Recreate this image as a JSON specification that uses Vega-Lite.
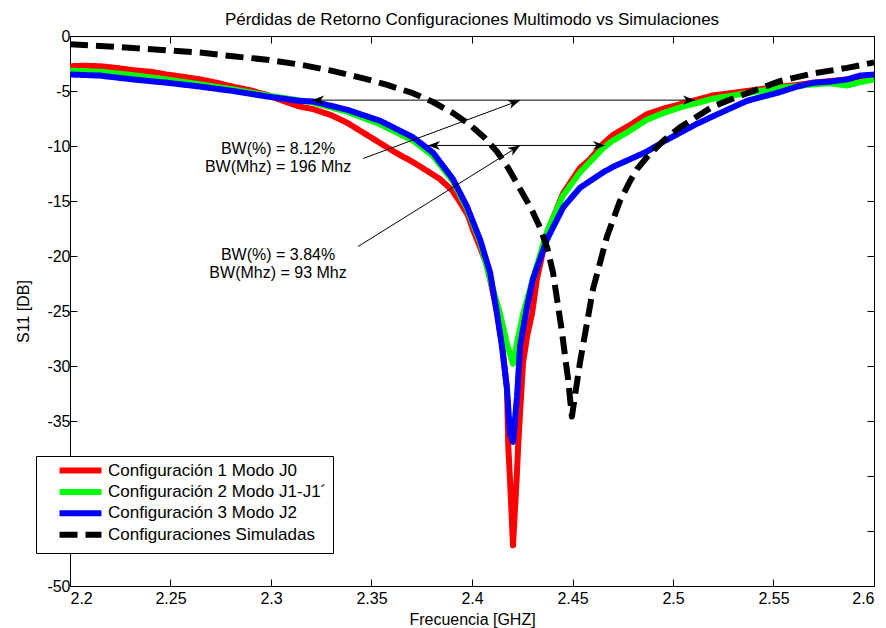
{
  "$schema": "https://vega.github.io/schema/vega-lite/v6.json",
  "width": 804,
  "height": 550,
  "autosize": {"type": "none"},
  "padding": {"left": 70, "top": 36, "right": 12, "bottom": 42},
  "background": "white",
  "config": {
    "font": "Liberation Sans",
    "view": {"stroke": "black", "strokeWidth": 1},
    "axis": {
      "grid": false,
      "domainColor": "black",
      "domainWidth": 1,
      "tickColor": "black",
      "tickWidth": 1,
      "tickSize": -7,
      "labelColor": "black",
      "titleColor": "black",
      "labelFont": "Liberation Sans",
      "titleFont": "Liberation Sans",
      "labelFontSize": 16,
      "titleFontSize": 16,
      "titleFontWeight": "normal"
    }
  },
  "title": {
    "text": "Pérdidas de Retorno Configuraciones Multimodo vs Simulaciones",
    "font": "Liberation Sans",
    "fontSize": 17,
    "fontWeight": "normal",
    "color": "black",
    "offset": -1
  },
  "datasets": {
    "curves": [
      {"serie": "Configuración 1 Modo J0", "f": 2.2, "s11": -2.75},
      {"serie": "Configuración 1 Modo J0", "f": 2.207, "s11": -2.7},
      {"serie": "Configuración 1 Modo J0", "f": 2.215, "s11": -2.75},
      {"serie": "Configuración 1 Modo J0", "f": 2.223, "s11": -2.9},
      {"serie": "Configuración 1 Modo J0", "f": 2.231, "s11": -3.1},
      {"serie": "Configuración 1 Modo J0", "f": 2.24, "s11": -3.25},
      {"serie": "Configuración 1 Modo J0", "f": 2.248, "s11": -3.5},
      {"serie": "Configuración 1 Modo J0", "f": 2.256, "s11": -3.7},
      {"serie": "Configuración 1 Modo J0", "f": 2.265, "s11": -3.95},
      {"serie": "Configuración 1 Modo J0", "f": 2.273, "s11": -4.25},
      {"serie": "Configuración 1 Modo J0", "f": 2.281, "s11": -4.6},
      {"serie": "Configuración 1 Modo J0", "f": 2.29, "s11": -4.95},
      {"serie": "Configuración 1 Modo J0", "f": 2.298, "s11": -5.35},
      {"serie": "Configuración 1 Modo J0", "f": 2.306, "s11": -5.9},
      {"serie": "Configuración 1 Modo J0", "f": 2.314, "s11": -6.4},
      {"serie": "Configuración 1 Modo J0", "f": 2.321, "s11": -6.65},
      {"serie": "Configuración 1 Modo J0", "f": 2.33, "s11": -7.2},
      {"serie": "Configuración 1 Modo J0", "f": 2.338, "s11": -7.9},
      {"serie": "Configuración 1 Modo J0", "f": 2.346, "s11": -8.8},
      {"serie": "Configuración 1 Modo J0", "f": 2.354, "s11": -9.7},
      {"serie": "Configuración 1 Modo J0", "f": 2.362, "s11": -10.6},
      {"serie": "Configuración 1 Modo J0", "f": 2.371, "s11": -11.5},
      {"serie": "Configuración 1 Modo J0", "f": 2.378, "s11": -12.3},
      {"serie": "Configuración 1 Modo J0", "f": 2.384, "s11": -13.0},
      {"serie": "Configuración 1 Modo J0", "f": 2.39, "s11": -14.0},
      {"serie": "Configuración 1 Modo J0", "f": 2.394, "s11": -15.1},
      {"serie": "Configuración 1 Modo J0", "f": 2.398, "s11": -16.3},
      {"serie": "Configuración 1 Modo J0", "f": 2.4005, "s11": -17.6},
      {"serie": "Configuración 1 Modo J0", "f": 2.404, "s11": -19.2},
      {"serie": "Configuración 1 Modo J0", "f": 2.4075, "s11": -20.9},
      {"serie": "Configuración 1 Modo J0", "f": 2.409, "s11": -22.1},
      {"serie": "Configuración 1 Modo J0", "f": 2.4124, "s11": -25.0},
      {"serie": "Configuración 1 Modo J0", "f": 2.4149, "s11": -28.0},
      {"serie": "Configuración 1 Modo J0", "f": 2.4174, "s11": -32.0},
      {"serie": "Configuración 1 Modo J0", "f": 2.4181, "s11": -37.5},
      {"serie": "Configuración 1 Modo J0", "f": 2.4189, "s11": -40.3},
      {"serie": "Configuración 1 Modo J0", "f": 2.4204, "s11": -46.3},
      {"serie": "Configuración 1 Modo J0", "f": 2.4222, "s11": -40.3},
      {"serie": "Configuración 1 Modo J0", "f": 2.4229, "s11": -37.5},
      {"serie": "Configuración 1 Modo J0", "f": 2.4239, "s11": -34.3},
      {"serie": "Configuración 1 Modo J0", "f": 2.4254, "s11": -29.7},
      {"serie": "Configuración 1 Modo J0", "f": 2.4275, "s11": -27.2},
      {"serie": "Configuración 1 Modo J0", "f": 2.4299, "s11": -25.2},
      {"serie": "Configuración 1 Modo J0", "f": 2.4323, "s11": -22.1},
      {"serie": "Configuración 1 Modo J0", "f": 2.4373, "s11": -17.9},
      {"serie": "Configuración 1 Modo J0", "f": 2.4453, "s11": -14.3},
      {"serie": "Configuración 1 Modo J0", "f": 2.4537, "s11": -12.0},
      {"serie": "Configuración 1 Modo J0", "f": 2.4587, "s11": -11.2},
      {"serie": "Configuración 1 Modo J0", "f": 2.4652, "s11": -9.8},
      {"serie": "Configuración 1 Modo J0", "f": 2.4701, "s11": -9.0},
      {"serie": "Configuración 1 Modo J0", "f": 2.4786, "s11": -8.1},
      {"serie": "Configuración 1 Modo J0", "f": 2.4871, "s11": -7.1},
      {"serie": "Configuración 1 Modo J0", "f": 2.4953, "s11": -6.6},
      {"serie": "Configuración 1 Modo J0", "f": 2.5035, "s11": -6.2},
      {"serie": "Configuración 1 Modo J0", "f": 2.5117, "s11": -5.8},
      {"serie": "Configuración 1 Modo J0", "f": 2.5199, "s11": -5.4},
      {"serie": "Configuración 1 Modo J0", "f": 2.5283, "s11": -5.2},
      {"serie": "Configuración 1 Modo J0", "f": 2.5368, "s11": -5.0},
      {"serie": "Configuración 1 Modo J0", "f": 2.545, "s11": -4.8},
      {"serie": "Configuración 1 Modo J0", "f": 2.5532, "s11": -4.6},
      {"serie": "Configuración 1 Modo J0", "f": 2.5617, "s11": -4.45},
      {"serie": "Configuración 1 Modo J0", "f": 2.5697, "s11": -4.25},
      {"serie": "Configuración 1 Modo J0", "f": 2.578, "s11": -4.1},
      {"serie": "Configuración 1 Modo J0", "f": 2.5866, "s11": -3.95},
      {"serie": "Configuración 1 Modo J0", "f": 2.593, "s11": -3.7},
      {"serie": "Configuración 1 Modo J0", "f": 2.6, "s11": -3.55},

      {"serie": "Configuración 2 Modo J1-J1´", "f": 2.2, "s11": -3.15},
      {"serie": "Configuración 2 Modo J1-J1´", "f": 2.215, "s11": -3.25},
      {"serie": "Configuración 2 Modo J1-J1´", "f": 2.231, "s11": -3.55},
      {"serie": "Configuración 2 Modo J1-J1´", "f": 2.248, "s11": -3.95},
      {"serie": "Configuración 2 Modo J1-J1´", "f": 2.265, "s11": -4.4},
      {"serie": "Configuración 2 Modo J1-J1´", "f": 2.281, "s11": -4.85},
      {"serie": "Configuración 2 Modo J1-J1´", "f": 2.298, "s11": -5.4},
      {"serie": "Configuración 2 Modo J1-J1´", "f": 2.314, "s11": -5.85},
      {"serie": "Configuración 2 Modo J1-J1´", "f": 2.321, "s11": -6.05},
      {"serie": "Configuración 2 Modo J1-J1´", "f": 2.338, "s11": -6.9},
      {"serie": "Configuración 2 Modo J1-J1´", "f": 2.354, "s11": -8.0},
      {"serie": "Configuración 2 Modo J1-J1´", "f": 2.3706, "s11": -9.5},
      {"serie": "Configuración 2 Modo J1-J1´", "f": 2.3806, "s11": -10.9},
      {"serie": "Configuración 2 Modo J1-J1´", "f": 2.3905, "s11": -13.2},
      {"serie": "Configuración 2 Modo J1-J1´", "f": 2.3975, "s11": -15.7},
      {"serie": "Configuración 2 Modo J1-J1´", "f": 2.404, "s11": -18.7},
      {"serie": "Configuración 2 Modo J1-J1´", "f": 2.409, "s11": -22.1},
      {"serie": "Configuración 2 Modo J1-J1´", "f": 2.4139, "s11": -25.2},
      {"serie": "Configuración 2 Modo J1-J1´", "f": 2.4174, "s11": -28.0},
      {"serie": "Configuración 2 Modo J1-J1´", "f": 2.4204, "s11": -29.8},
      {"serie": "Configuración 2 Modo J1-J1´", "f": 2.4225, "s11": -27.8},
      {"serie": "Configuración 2 Modo J1-J1´", "f": 2.4255, "s11": -25.2},
      {"serie": "Configuración 2 Modo J1-J1´", "f": 2.4303, "s11": -22.1},
      {"serie": "Configuración 2 Modo J1-J1´", "f": 2.4373, "s11": -17.8},
      {"serie": "Configuración 2 Modo J1-J1´", "f": 2.4453, "s11": -14.5},
      {"serie": "Configuración 2 Modo J1-J1´", "f": 2.4537, "s11": -12.4},
      {"serie": "Configuración 2 Modo J1-J1´", "f": 2.4652, "s11": -10.2},
      {"serie": "Configuración 2 Modo J1-J1´", "f": 2.4701, "s11": -9.5},
      {"serie": "Configuración 2 Modo J1-J1´", "f": 2.4786, "s11": -8.6},
      {"serie": "Configuración 2 Modo J1-J1´", "f": 2.4871, "s11": -7.6},
      {"serie": "Configuración 2 Modo J1-J1´", "f": 2.4953, "s11": -7.0},
      {"serie": "Configuración 2 Modo J1-J1´", "f": 2.5035, "s11": -6.5},
      {"serie": "Configuración 2 Modo J1-J1´", "f": 2.5117, "s11": -6.1},
      {"serie": "Configuración 2 Modo J1-J1´", "f": 2.5199, "s11": -5.7},
      {"serie": "Configuración 2 Modo J1-J1´", "f": 2.5283, "s11": -5.45},
      {"serie": "Configuración 2 Modo J1-J1´", "f": 2.5368, "s11": -5.2},
      {"serie": "Configuración 2 Modo J1-J1´", "f": 2.545, "s11": -4.95},
      {"serie": "Configuración 2 Modo J1-J1´", "f": 2.5532, "s11": -4.7},
      {"serie": "Configuración 2 Modo J1-J1´", "f": 2.5617, "s11": -4.55},
      {"serie": "Configuración 2 Modo J1-J1´", "f": 2.5697, "s11": -4.4},
      {"serie": "Configuración 2 Modo J1-J1´", "f": 2.578, "s11": -4.3},
      {"serie": "Configuración 2 Modo J1-J1´", "f": 2.5866, "s11": -4.5},
      {"serie": "Configuración 2 Modo J1-J1´", "f": 2.593, "s11": -4.2},
      {"serie": "Configuración 2 Modo J1-J1´", "f": 2.6, "s11": -3.95},

      {"serie": "Configuración 3 Modo J2", "f": 2.2, "s11": -3.5},
      {"serie": "Configuración 3 Modo J2", "f": 2.2149, "s11": -3.6},
      {"serie": "Configuración 3 Modo J2", "f": 2.2313, "s11": -3.95},
      {"serie": "Configuración 3 Modo J2", "f": 2.2483, "s11": -4.25},
      {"serie": "Configuración 3 Modo J2", "f": 2.2647, "s11": -4.6},
      {"serie": "Configuración 3 Modo J2", "f": 2.2811, "s11": -5.0},
      {"serie": "Configuración 3 Modo J2", "f": 2.298, "s11": -5.5},
      {"serie": "Configuración 3 Modo J2", "f": 2.3144, "s11": -5.9},
      {"serie": "Configuración 3 Modo J2", "f": 2.3209, "s11": -5.95},
      {"serie": "Configuración 3 Modo J2", "f": 2.3378, "s11": -6.7},
      {"serie": "Configuración 3 Modo J2", "f": 2.3542, "s11": -7.7},
      {"serie": "Configuración 3 Modo J2", "f": 2.3706, "s11": -9.2},
      {"serie": "Configuración 3 Modo J2", "f": 2.3806, "s11": -10.6},
      {"serie": "Configuración 3 Modo J2", "f": 2.3905, "s11": -13.0},
      {"serie": "Configuración 3 Modo J2", "f": 2.3975, "s11": -15.5},
      {"serie": "Configuración 3 Modo J2", "f": 2.404, "s11": -18.5},
      {"serie": "Configuración 3 Modo J2", "f": 2.409, "s11": -21.5},
      {"serie": "Configuración 3 Modo J2", "f": 2.4124, "s11": -25.2},
      {"serie": "Configuración 3 Modo J2", "f": 2.4149, "s11": -28.2},
      {"serie": "Configuración 3 Modo J2", "f": 2.4174, "s11": -32.1},
      {"serie": "Configuración 3 Modo J2", "f": 2.4189, "s11": -36.1},
      {"serie": "Configuración 3 Modo J2", "f": 2.4204, "s11": -36.9},
      {"serie": "Configuración 3 Modo J2", "f": 2.4224, "s11": -32.8},
      {"serie": "Configuración 3 Modo J2", "f": 2.4239, "s11": -28.2},
      {"serie": "Configuración 3 Modo J2", "f": 2.4274, "s11": -24.6},
      {"serie": "Configuración 3 Modo J2", "f": 2.4303, "s11": -22.1},
      {"serie": "Configuración 3 Modo J2", "f": 2.4373, "s11": -18.5},
      {"serie": "Configuración 3 Modo J2", "f": 2.4453, "s11": -15.6},
      {"serie": "Configuración 3 Modo J2", "f": 2.4537, "s11": -13.8},
      {"serie": "Configuración 3 Modo J2", "f": 2.4652, "s11": -12.4},
      {"serie": "Configuración 3 Modo J2", "f": 2.4701, "s11": -11.9},
      {"serie": "Configuración 3 Modo J2", "f": 2.4786, "s11": -11.2},
      {"serie": "Configuración 3 Modo J2", "f": 2.4871, "s11": -10.5},
      {"serie": "Configuración 3 Modo J2", "f": 2.4953, "s11": -9.6},
      {"serie": "Configuración 3 Modo J2", "f": 2.5035, "s11": -8.8},
      {"serie": "Configuración 3 Modo J2", "f": 2.5117, "s11": -8.0},
      {"serie": "Configuración 3 Modo J2", "f": 2.5199, "s11": -7.3},
      {"serie": "Configuración 3 Modo J2", "f": 2.5283, "s11": -6.6},
      {"serie": "Configuración 3 Modo J2", "f": 2.5368, "s11": -5.9},
      {"serie": "Configuración 3 Modo J2", "f": 2.545, "s11": -5.5},
      {"serie": "Configuración 3 Modo J2", "f": 2.5532, "s11": -5.1},
      {"serie": "Configuración 3 Modo J2", "f": 2.5617, "s11": -4.6},
      {"serie": "Configuración 3 Modo J2", "f": 2.5697, "s11": -4.25},
      {"serie": "Configuración 3 Modo J2", "f": 2.578, "s11": -4.15},
      {"serie": "Configuración 3 Modo J2", "f": 2.5866, "s11": -3.95},
      {"serie": "Configuración 3 Modo J2", "f": 2.593, "s11": -3.6},
      {"serie": "Configuración 3 Modo J2", "f": 2.6, "s11": -3.5},

      {"serie": "Configuraciones Simuladas", "f": 2.2, "s11": -0.75},
      {"serie": "Configuraciones Simuladas", "f": 2.2149, "s11": -0.9},
      {"serie": "Configuraciones Simuladas", "f": 2.2313, "s11": -1.1},
      {"serie": "Configuraciones Simuladas", "f": 2.2483, "s11": -1.3},
      {"serie": "Configuraciones Simuladas", "f": 2.2647, "s11": -1.5},
      {"serie": "Configuraciones Simuladas", "f": 2.2811, "s11": -1.85},
      {"serie": "Configuraciones Simuladas", "f": 2.298, "s11": -2.15},
      {"serie": "Configuraciones Simuladas", "f": 2.3144, "s11": -2.6},
      {"serie": "Configuraciones Simuladas", "f": 2.33, "s11": -3.15},
      {"serie": "Configuraciones Simuladas", "f": 2.345, "s11": -3.8},
      {"serie": "Configuraciones Simuladas", "f": 2.357, "s11": -4.4},
      {"serie": "Configuraciones Simuladas", "f": 2.3706, "s11": -5.2},
      {"serie": "Configuraciones Simuladas", "f": 2.3806, "s11": -6.0},
      {"serie": "Configuraciones Simuladas", "f": 2.3905, "s11": -7.0},
      {"serie": "Configuraciones Simuladas", "f": 2.3985, "s11": -8.0},
      {"serie": "Configuraciones Simuladas", "f": 2.406, "s11": -9.2},
      {"serie": "Configuraciones Simuladas", "f": 2.4124, "s11": -10.5},
      {"serie": "Configuraciones Simuladas", "f": 2.418, "s11": -12.0},
      {"serie": "Configuraciones Simuladas", "f": 2.4239, "s11": -13.9},
      {"serie": "Configuraciones Simuladas", "f": 2.4295, "s11": -15.7},
      {"serie": "Configuraciones Simuladas", "f": 2.4338, "s11": -17.4},
      {"serie": "Configuraciones Simuladas", "f": 2.4375, "s11": -19.3},
      {"serie": "Configuraciones Simuladas", "f": 2.4403, "s11": -21.5},
      {"serie": "Configuraciones Simuladas", "f": 2.4446, "s11": -26.7},
      {"serie": "Configuraciones Simuladas", "f": 2.4478, "s11": -31.2},
      {"serie": "Configuraciones Simuladas", "f": 2.4497, "s11": -34.6},
      {"serie": "Configuraciones Simuladas", "f": 2.4537, "s11": -29.7},
      {"serie": "Configuraciones Simuladas", "f": 2.4602, "s11": -23.0},
      {"serie": "Configuraciones Simuladas", "f": 2.4672, "s11": -18.2},
      {"serie": "Configuraciones Simuladas", "f": 2.4736, "s11": -15.0},
      {"serie": "Configuraciones Simuladas", "f": 2.4786, "s11": -13.2},
      {"serie": "Configuraciones Simuladas", "f": 2.4821, "s11": -12.1},
      {"serie": "Configuraciones Simuladas", "f": 2.4871, "s11": -11.0},
      {"serie": "Configuraciones Simuladas", "f": 2.4953, "s11": -9.5},
      {"serie": "Configuraciones Simuladas", "f": 2.5035, "s11": -8.3},
      {"serie": "Configuraciones Simuladas", "f": 2.5199, "s11": -6.4},
      {"serie": "Configuraciones Simuladas", "f": 2.5368, "s11": -5.2},
      {"serie": "Configuraciones Simuladas", "f": 2.5532, "s11": -4.1},
      {"serie": "Configuraciones Simuladas", "f": 2.5697, "s11": -3.4},
      {"serie": "Configuraciones Simuladas", "f": 2.5866, "s11": -2.9},
      {"serie": "Configuraciones Simuladas", "f": 2.6, "s11": -2.4}
    ],
    "segments": [
      {"x": 2.3204, "y": -5.83, "x2": 2.511, "y2": -5.83},
      {"x": 2.3781, "y": -9.95, "x2": 2.4662, "y2": -9.95},
      {"x": 2.3458, "y": -11.14, "x2": 2.4239, "y2": -5.84},
      {"x": 2.3433, "y": -19.14, "x2": 2.4239, "y2": -9.95}
    ],
    "heads": [
      {"dir": "right", "x": 2.511, "y": -5.83},
      {"dir": "right", "x": 2.4662, "y": -9.95},
      {"dir": "left", "x": 2.3204, "y": -5.83},
      {"dir": "left", "x": 2.3781, "y": -9.95},
      {"dir": "diag1", "x": 2.4239, "y": -5.84},
      {"dir": "diag2", "x": 2.4239, "y": -9.95}
    ],
    "notes": [
      {"x": 2.3035, "y": -10.3, "t": "BW(%) = 8.12%"},
      {"x": 2.3035, "y": -11.9, "t": "BW(Mhz) = 196 Mhz"},
      {"x": 2.3035, "y": -19.9, "t": "BW(%) = 3.84%"},
      {"x": 2.3035, "y": -21.5, "t": "BW(Mhz) = 93 Mhz"}
    ]
  },
  "resolve": {"axis": {"x": "independent", "y": "independent"}},
  "layer": [
    {
      "data": {"name": "curves"},
      "mark": {"type": "line", "strokeWidth": 6, "strokeJoin": "round", "strokeCap": "butt"},
      "encoding": {
        "x": {
          "field": "f", "type": "quantitative",
          "scale": {"domain": [2.2, 2.6], "nice": false, "zero": false},
          "axis": {
            "orient": "bottom",
            "title": "Frecuencia [GHZ]",
            "values": [2.2, 2.25, 2.3, 2.35, 2.4, 2.45, 2.5, 2.55, 2.6],
            "labelExpr": "format(datum.value, '~g')",
            "labelPadding": 11,
            "titlePadding": 5
          }
        },
        "y": {
          "field": "s11", "type": "quantitative",
          "scale": {"domain": [-50, 0], "nice": false, "zero": false},
          "axis": {
            "orient": "left",
            "title": "S11 [DB]",
            "values": [-50, -45, -40, -35, -30, -25, -20, -15, -10, -5, 0],
            "labelExpr": "'' + datum.value",
            "labelPadding": 7,
            "titlePadding": 15
          }
        },
        "color": {
          "field": "serie", "type": "nominal",
          "scale": {
            "domain": ["Configuración 1 Modo J0", "Configuración 2 Modo J1-J1´", "Configuración 3 Modo J2", "Configuraciones Simuladas"],
            "range": ["#ff0000", "#00ff00", "#0000ff", "#000000"]
          },
          "legend": {
            "title": null,
            "orient": "none",
            "legendX": -34,
            "legendY": 420,
            "padding": 6,
            "strokeColor": "black",
            "fillColor": "white",
            "labelFont": "Liberation Sans",
            "labelFontSize": 17,
            "labelColor": "black",
            "labelLimit": 400,
            "symbolType": "M-4,0L4,0",
            "symbolSize": 110,
            "symbolStrokeWidth": 6,
            "symbolOffset": 30,
            "labelOffset": 19,
            "rowPadding": -3.6
          }
        },
        "strokeDash": {
          "field": "serie", "type": "nominal",
          "scale": {
            "domain": ["Configuración 1 Modo J0", "Configuración 2 Modo J1-J1´", "Configuración 3 Modo J2", "Configuraciones Simuladas"],
            "range": [[1, 0], [1, 0], [1, 0], [18, 8]]
          },
          "legend": {
            "title": null,
            "orient": "none",
            "legendX": -34,
            "legendY": 420,
            "padding": 6,
            "strokeColor": "black",
            "fillColor": "white",
            "labelFont": "Liberation Sans",
            "labelFontSize": 17,
            "labelColor": "black",
            "labelLimit": 400,
            "symbolType": "M-4,0L4,0",
            "symbolSize": 110,
            "symbolStrokeWidth": 6,
            "symbolOffset": 30,
            "labelOffset": 19,
            "rowPadding": -3.6
          }
        }
      }
    },
    {
      "data": {"name": "segments"},
      "mark": {"type": "rule", "color": "black", "strokeWidth": 1},
      "encoding": {
        "x": {
          "field": "x", "type": "quantitative",
          "scale": {"domain": [2.2, 2.6], "nice": false, "zero": false},
          "axis": {"orient": "top", "title": null, "labels": false, "values": [2.2, 2.25, 2.3, 2.35, 2.4, 2.45, 2.5, 2.55, 2.6]}
        },
        "x2": {"field": "x2"},
        "y": {
          "field": "y", "type": "quantitative",
          "scale": {"domain": [-50, 0], "nice": false, "zero": false},
          "axis": {"orient": "right", "title": null, "labels": false, "values": [-50, -45, -40, -35, -30, -25, -20, -15, -10, -5, 0]}
        },
        "y2": {"field": "y2"}
      }
    },
    {
      "data": {"name": "heads"},
      "transform": [{"filter": "datum.dir == 'right'"}],
      "mark": {"type": "point", "shape": "M0,0L-1,-0.38L-0.72,0L-1,0.38Z", "size": 576, "filled": true, "color": "black", "opacity": 1, "angle": 0},
      "encoding": {
        "x": {"field": "x", "type": "quantitative", "scale": {"domain": [2.2, 2.6], "nice": false, "zero": false}, "axis": null},
        "y": {"field": "y", "type": "quantitative", "scale": {"domain": [-50, 0], "nice": false, "zero": false}, "axis": null}
      }
    },
    {
      "data": {"name": "heads"},
      "transform": [{"filter": "datum.dir == 'left'"}],
      "mark": {"type": "point", "shape": "M0,0L-1,-0.38L-0.72,0L-1,0.38Z", "size": 576, "filled": true, "color": "black", "opacity": 1, "angle": 180},
      "encoding": {
        "x": {"field": "x", "type": "quantitative", "scale": {"domain": [2.2, 2.6], "nice": false, "zero": false}, "axis": null},
        "y": {"field": "y", "type": "quantitative", "scale": {"domain": [-50, 0], "nice": false, "zero": false}, "axis": null}
      }
    },
    {
      "data": {"name": "heads"},
      "transform": [{"filter": "datum.dir == 'diag1'"}],
      "mark": {"type": "point", "shape": "M0,0L-1,-0.38L-0.72,0L-1,0.38Z", "size": 576, "filled": true, "color": "black", "opacity": 1, "angle": -20.3},
      "encoding": {
        "x": {"field": "x", "type": "quantitative", "scale": {"domain": [2.2, 2.6], "nice": false, "zero": false}, "axis": null},
        "y": {"field": "y", "type": "quantitative", "scale": {"domain": [-50, 0], "nice": false, "zero": false}, "axis": null}
      }
    },
    {
      "data": {"name": "heads"},
      "transform": [{"filter": "datum.dir == 'diag2'"}],
      "mark": {"type": "point", "shape": "M0,0L-1,-0.38L-0.72,0L-1,0.38Z", "size": 576, "filled": true, "color": "black", "opacity": 1, "angle": -31.9},
      "encoding": {
        "x": {"field": "x", "type": "quantitative", "scale": {"domain": [2.2, 2.6], "nice": false, "zero": false}, "axis": null},
        "y": {"field": "y", "type": "quantitative", "scale": {"domain": [-50, 0], "nice": false, "zero": false}, "axis": null}
      }
    },
    {
      "data": {"name": "notes"},
      "mark": {"type": "text", "font": "Liberation Sans", "fontSize": 16, "color": "black", "align": "center", "baseline": "middle"},
      "encoding": {
        "x": {"field": "x", "type": "quantitative", "scale": {"domain": [2.2, 2.6], "nice": false, "zero": false}, "axis": null},
        "y": {"field": "y", "type": "quantitative", "scale": {"domain": [-50, 0], "nice": false, "zero": false}, "axis": null},
        "text": {"field": "t"}
      }
    }
  ]
}
